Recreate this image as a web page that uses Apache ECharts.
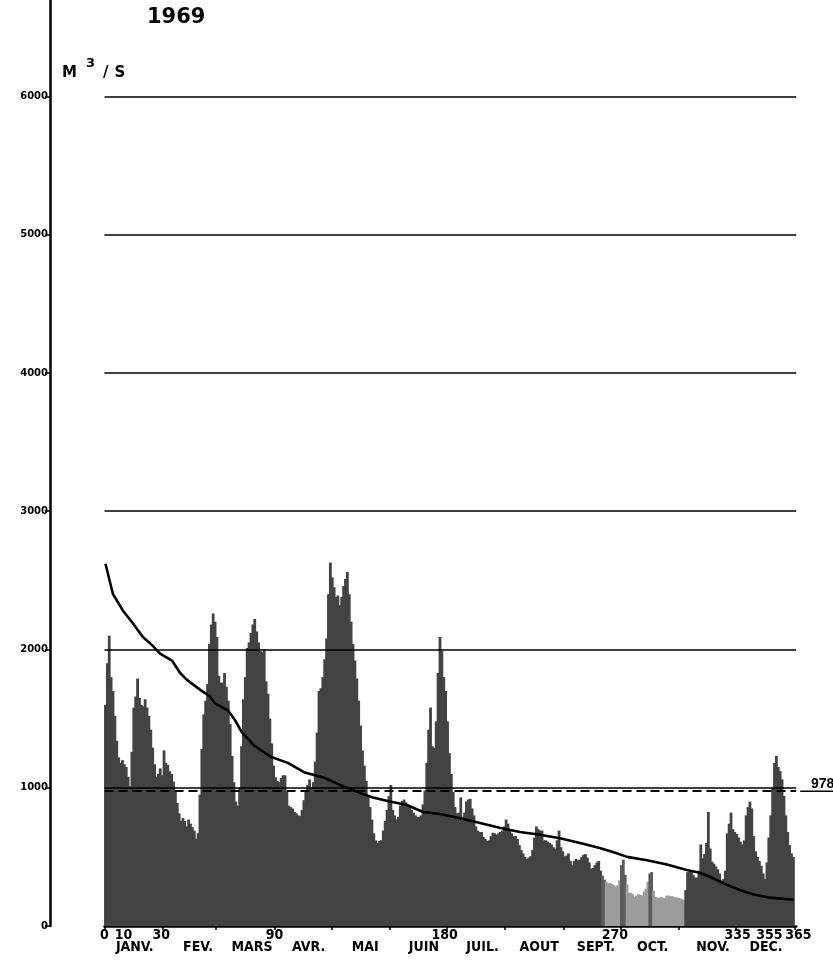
<!DOCTYPE html>
<html><head><meta charset="utf-8">
<script src="https://cdn.jsdelivr.net/npm/echarts@6/dist/echarts.min.js"></script>
<style>html,body{margin:0;padding:0;background:#fff}#c{width:833px;height:965px}</style>
</head><body><div id="c"></div>
<script>
// ---- data (m3/s, daily, 1969) ----
const yearTitle = '1969';
const jan = [1600,1900,2100,1800,1700,1520,1340,1220,1180,1200,1170,1150,1080,1010,1260,1580,1660,1790,1650,1600,1590,1640,1580,1520,1420,1290,1170,1080,1100,1140,1090];
const feb = [1270,1180,1165,1120,1100,1045,970,890,815,760,780,760,720,770,740,715,690,630,670,950,1280,1530,1630,1750,2040,2180,2260,2200];
const mar = [2090,1810,1760,1760,1830,1730,1630,1460,1230,1040,900,870,1000,1300,1640,1800,2010,2050,2120,2180,2220,2130,2050,1990,1980,2000,1770,1680,1500,1320,1160];
const apr = [1075,1050,1040,1070,1090,1090,970,870,860,850,825,815,800,795,840,910,970,1020,1060,1000,1040,1190,1400,1700,1720,1800,1930,2080,2400,2630];
const may = [2520,2450,2380,2390,2320,2380,2460,2510,2560,2400,2200,2040,1920,1790,1630,1450,1270,1160,1050,940,860,770,670,620,600,615,620,690,760,840,940];
const jun = [1020,840,800,770,790,870,905,915,895,875,860,840,820,800,790,790,800,880,980,1180,1420,1580,1300,1290,1480,1830,2090,1990,1800,1700];
const jul = [1480,1250,1100,970,860,815,820,930,790,820,900,915,920,850,800,720,690,680,680,645,630,615,620,650,675,670,660,670,680,690,720];
const aug = [770,740,690,670,650,650,630,585,550,525,500,485,495,505,550,640,720,700,690,690,620,620,610,600,590,570,560,620,690,570,540];
const sep = [505,510,525,470,440,470,485,475,480,500,515,520,495,460,415,420,440,460,470,400,365,335,320,310,310,305,295,285,295,330];
const oct = [440,480,370,300,240,240,230,210,220,230,225,220,250,270,320,380,390,255,210,205,205,210,205,200,220,220,215,215,210,205,205];
const nov = [200,195,190,260,390,390,390,370,350,350,400,590,490,520,600,825,560,465,450,430,410,380,330,340,400,670,740,820,700,680];
const dec = [665,640,610,590,620,800,860,900,850,650,540,500,470,435,380,340,460,640,800,1000,1180,1230,1150,1120,1060,940,800,680,585,525,500];
const dailyFlow = [].concat(jan, feb, mar, apr, may, jun, jul, aug, sep, oct, nov, dec);

// classified-discharge curve
const curveDays   = [0.5, 4.5, 9.8, 15, 20.3, 25.3, 29.4, 35.7, 40, 43.6, 50.5, 55.8, 58.5, 65.3, 69, 72.7, 79.6, 88.6, 97, 106, 116.7, 124.6, 133.6, 142, 151, 160, 168.5, 177.5, 188, 198.7, 209, 219.8, 230.4, 241, 251.6, 262, 269, 276.5, 287, 297.6, 308, 315, 322, 329, 336, 343, 352, 364.5];
const curveValues = [2620, 2400, 2280, 2190, 2090, 2030, 1970, 1920, 1830, 1780, 1710, 1660, 1610, 1560, 1490, 1400, 1300, 1220, 1180, 1110, 1070, 1020, 970, 930, 900, 875, 825, 810, 780, 745, 710, 680, 660, 635, 600, 565, 535, 500, 475, 445, 405, 385, 345, 300, 260, 230, 205, 190];

const meanFlow = 978;
const gridLevels = [1000, 2000, 3000, 4000, 5000, 6000];
const yTickValues = [0, 1000, 2000, 3000, 4000, 5000, 6000];
const dayTickValues = [0, 31, 59, 90, 120, 151, 181, 212, 243, 273, 304, 334, 365];
const dayLabelValues = [0, 10, 30, 90, 180, 270, 335, 355, 365];
const monthNames = ['JANV.', 'FEV.', 'MARS', 'AVR.', 'MAI', 'JUIN', 'JUIL.', 'AOUT', 'SEPT.', 'OCT.', 'NOV.', 'DEC.'];
const monthLabelDays = [16, 49.5, 78, 108, 138, 169, 200, 230, 260, 290, 322, 350];

// ---- chart ----
const narrow = "'Liberation Sans Narrow','DejaVu Sans Condensed','Liberation Sans',sans-serif";
const chart = echarts.init(document.getElementById('c'), null, {renderer: 'canvas'});
const XMAX = 366, YMAX = 6698;
const numStyle = {color: '#000', fontFamily: narrow, fontWeight: 'bold', fontSize: 14};
const option = {
  animation: false,
  backgroundColor: '#fff',
  title: [
    {text: yearTitle, left: 142, top: 2, padding: 5,
     textStyle: {fontFamily: 'DejaVu Sans', fontWeight: 'bold', fontSize: 21, color: '#000'}},
    {text: '{m|M}{g1|}{s|3}{g2|}{m|/}{g3|}{m|S}', left: 57, top: 52, padding: 5,
     textStyle: {rich: {
       m: {fontFamily: 'DejaVu Sans', fontWeight: 'bold', fontSize: 15, color: '#000', verticalAlign: 'bottom', lineHeight: 24},
       s: {fontFamily: 'DejaVu Sans', fontWeight: 'bold', fontSize: 13, color: '#000', verticalAlign: 'top', lineHeight: 24},
       g1: {width: 9}, g2: {width: 8}, g3: {width: 6}
     }}}
  ],
  grid: {left: 104.5, right: 833 - (104.5 + XMAX * 1.89), top: 0, bottom: 39},
  xAxis: [
    {type: 'value', min: 0, max: XMAX, position: 'bottom',
     axisLine: {show: true, onZero: false, lineStyle: {color: '#000', width: 2.5}},
     axisTick: {show: true, customValues: dayTickValues, length: 4, lineStyle: {color: '#000', width: 1.5}},
     axisLabel: Object.assign({customValues: dayLabelValues, margin: 2, hideOverlap: false,
       formatter: v => v === 365 ? '{r|365}' : (v === 355 ? '{l|355}' : String(v)),
       rich: {r: Object.assign({padding: [0, 0, 0, 8]}, numStyle), l: Object.assign({padding: [0, 12, 0, 0]}, numStyle)}}, numStyle),
     splitLine: {show: false}},
    {type: 'value', min: 0, max: XMAX, position: 'bottom',
     axisLine: {show: false}, axisTick: {show: false}, splitLine: {show: false},
     axisLabel: Object.assign({customValues: monthLabelDays, margin: 14, hideOverlap: false,
       formatter: v => monthNames[monthLabelDays.indexOf(v)] || ''}, numStyle)}
  ],
  yAxis: {type: 'value', min: 0, max: YMAX, interval: 1000, position: 'left', offset: 54.5,
    axisLine: {show: true, onZero: false, lineStyle: {color: '#000', width: 2.5}},
    axisTick: {show: true, customValues: yTickValues, length: 5, lineStyle: {color: '#000', width: 1.5}},
    axisLabel: {customValues: yTickValues, margin: 2, color: '#000', fontFamily: 'DejaVu Sans', fontWeight: 'bold', fontSize: 10,
      formatter: v => String(v)},
    splitLine: {show: false}},
  series: [
    {type: 'bar', name: 'daily', data: dailyFlow.map((v, i) => [i + 0.5, v]), barWidth: 2.8, z: 2,
     itemStyle: {color: p => {
       const d = p.dataIndex + 1;
       if (d >= 264 && d <= 307) return p.value[1] > 330 ? '#5c5c5c' : '#9c9c9c';
       return '#434343';
     }}},
    {type: 'line', name: 'classified', data: curveDays.map((d, i) => [d, curveValues[i]]),
     symbol: 'none', lineStyle: {color: '#000', width: 2.6}, z: 4,
     markLine: {silent: true, symbol: 'none', animation: false,
       data: gridLevels.map(v => ({yAxis: v, lineStyle: {type: 'solid', width: 1.5, color: '#000'}, label: {show: false}}))
         .concat([{yAxis: meanFlow, lineStyle: {type: [9, 5], width: 1.8, color: '#000'},
           label: {show: true, position: 'end', distance: 4, formatter: '{t|' + meanFlow + '}\n{u|}', padding: [0, 0, 12, 0],
             rich: {t: {fontFamily: 'Liberation Sans', fontWeight: 'bold', fontSize: 14, color: '#000', width: 32, align: 'right', lineHeight: 13},
                    u: {width: 34, height: 1.6, backgroundColor: '#000'}}}}])}}
  ]
};
chart.setOption(option);
</script></body></html>
